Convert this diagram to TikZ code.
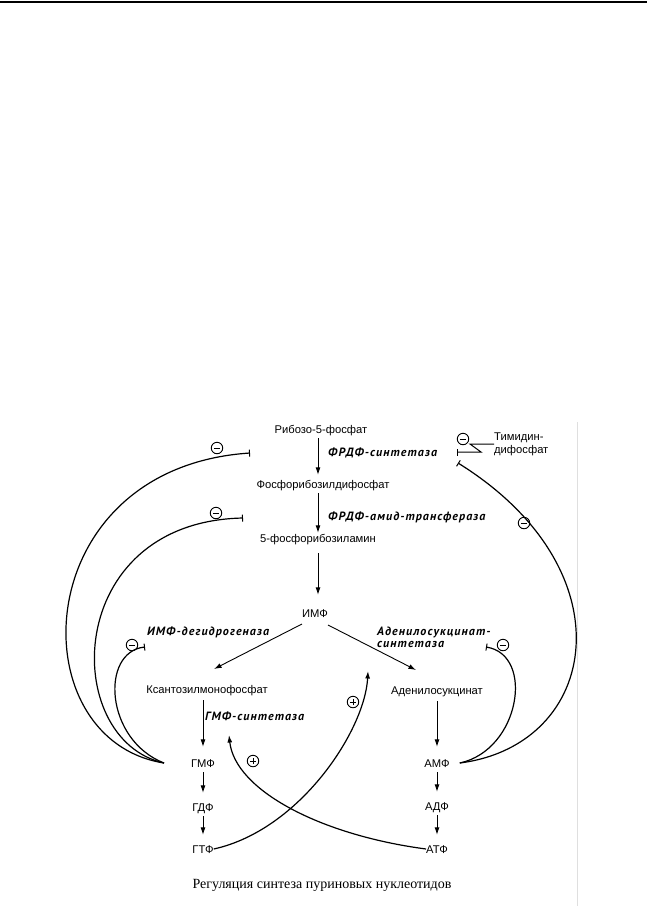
\documentclass[tikz,border=0pt]{standalone}
\usepackage{fontspec}
\setmainfont{Liberation Serif}
\newfontfamily\dsans{Liberation Sans}
\newfontfamily\enzfont{PT Sans}[LetterSpace=9]
\usetikzlibrary{arrows.meta,calc}
\begin{document}
\begin{tikzpicture}[x=1pt,y=-1pt,
  met/.style={font=\dsans\fontsize{11.2}{13}\selectfont, inner sep=0pt, text height=8pt, text depth=0pt, minimum height=18pt},
  enz/.style={font=\enzfont\bfseries\itshape\fontsize{12}{12}\selectfont, inner sep=0pt, anchor=west, align=left},
  arr/.style={-{Latex[length=7.5pt,width=5pt]}, line width=0.9pt},
  inh/.style={-{Bar[width=7pt,line width=1pt]}, line width=1.2pt},
  act/.style={-{Latex[length=7.5pt,width=5pt]}, line width=1.2pt},
  ominus/.style={circle, draw, line width=0.9pt, minimum size=11.5pt, inner sep=0pt,
    path picture={\draw[line width=1pt] ([xshift=-3.2pt]path picture bounding box.center) -- ([xshift=3.2pt]path picture bounding box.center);}},
  oplus/.style={ominus,
    path picture={\draw[line width=1pt] ([xshift=-3.2pt]path picture bounding box.center) -- ([xshift=3.2pt]path picture bounding box.center);
      \draw[line width=1pt] ([yshift=-3.2pt]path picture bounding box.center) -- ([yshift=3.2pt]path picture bounding box.center);}}
]
\useasboundingbox (0,0) rectangle (647,906);
\draw[line width=1.6pt] (0,1.8) -- (647,1.8);
\draw[gray!25, line width=0.8pt] (577,422) -- (577,906);

% metabolites
\node[met] (R5P) at (321,429) {Рибозо-5-фосфат};
\node[met] (FRDF) at (323,484) {Фосфорибозилдифосфат};
\node[met] (PRA) at (318,538) {5-фосфорибозиламин};
\node[met] (IMP) at (315,613) {ИМФ};
\node[met] (XMP) at (207,689) {Ксантозилмонофосфат};
\node[met] (SAMP) at (437,690) {Аденилосукцинат};
\node[met] (GMP) at (203,763) {ГМФ};
\node[met] (GDP) at (203,807) {ГДФ};
\node[met] (GTP) at (203,849) {ГТФ};
\node[met] (AMP) at (437,763) {АМФ};
\node[met] (ADP) at (437,806) {АДФ};
\node[met] (ATP) at (437,849) {АТФ};
\node[met, anchor=west, align=left, text height=, minimum height=0pt, font=\dsans\fontsize{11.2}{13}\selectfont] (TDP) at (494,443) {Тимидин-\\дифосфат};

% enzymes
\node[enz] (e1) at (328,453) {ФРДФ-синтетаза};
\node[enz] (e2) at (328,517) {ФРДФ-амид-трансфераза};
\node[enz] (e3) at (147,632) {ИМФ-дегидрогеназа};
\node[enz] (e4) at (377,637) {Аденилосукцинат-\\синтетаза};
\node[enz] (e5) at (205,716) {ГМФ-синтетаза};

% main arrows
\coordinate (colM) at (318,0);
\draw[arr] (R5P.south -| colM) -- (FRDF.north -| colM);
\draw[arr, shorten >=-4pt] (FRDF.south -| colM) -- (PRA.north -| colM);
\draw[arr, shorten <=6pt, shorten >=9pt] (PRA.south -| colM) -- (IMP.north -| colM);
\draw[arr] ([shift={(-13,11)}]IMP.center) -- ([shift={(7,-20)}]XMP.center);
\draw[arr] ([shift={(13,12)}]IMP.center) -- ([shift={(-21,-20)}]SAMP.center);
\draw[arr, shorten <=2pt, shorten >=7pt] (XMP.south -| GMP) -- (GMP.north);
\draw[arr, shorten <=2pt, shorten >=7pt] (SAMP.south) -- (AMP.north);
\draw[arr, shorten >=5pt] (GMP) -- (GDP);
\draw[arr, shorten >=5pt] (GDP) -- (GTP);
\draw[arr, shorten >=5pt] (AMP) -- (ADP);
\draw[arr, shorten >=5pt] (ADP) -- (ATP);

% inhibition ends
\coordinate (b1) at (250,453);
\coordinate (b2) at (243,518);
\coordinate (b3) at (145,647);
\coordinate (b4) at (458,463);
\coordinate (b5) at (486,647);
\coordinate (b6) at (457,452);

\draw[inh] ([xshift=-27pt]GMP.west) .. controls (18,740) and (26,468) .. (b1);
\draw[inh] ([xshift=-27pt]GMP.west) .. controls (60,740) and (62,522) .. (b2);
\draw[inh] ([xshift=-27pt]GMP.west) .. controls (105,740) and (100,652) .. (b3);
\draw[inh] ([xshift=10pt]AMP.east) .. controls (600,745) and (630,570) .. (b4);
\draw[inh] ([xshift=10pt]AMP.east) .. controls (520,750) and (535,655) .. (b5);
\draw[inh, line width=1pt] (TDP.west |- 0,444) -- (470,444) -- (481,452) -- (b6);

% activation
\coordinate (a1) at (368,671);
\coordinate (a2) at (229,735);
\draw[act] (GTP.east) .. controls (300,830) and (365,730) .. (a1);
\draw[act] (ATP.west) .. controls (320,835) and (235,790) .. (a2);

% signs
\node[ominus] (m1) at (217,448) {};
\node[ominus] (m2) at (216,513) {};
\node[ominus] (m3) at (132,645) {};
\node[ominus] (m4) at (463,439) {};
\node[ominus] (m5) at (524,523) {};
\node[ominus] (m6) at (503,645) {};
\node[oplus] (p1) at (353,702) {};
\node[oplus] (p2) at (253,761) {};

\node[font=\fontsize{14}{16}\selectfont, inner sep=0pt] (cap) at (322,885) {Регуляция синтеза пуриновых нуклеотидов};
\end{tikzpicture}
\end{document}
